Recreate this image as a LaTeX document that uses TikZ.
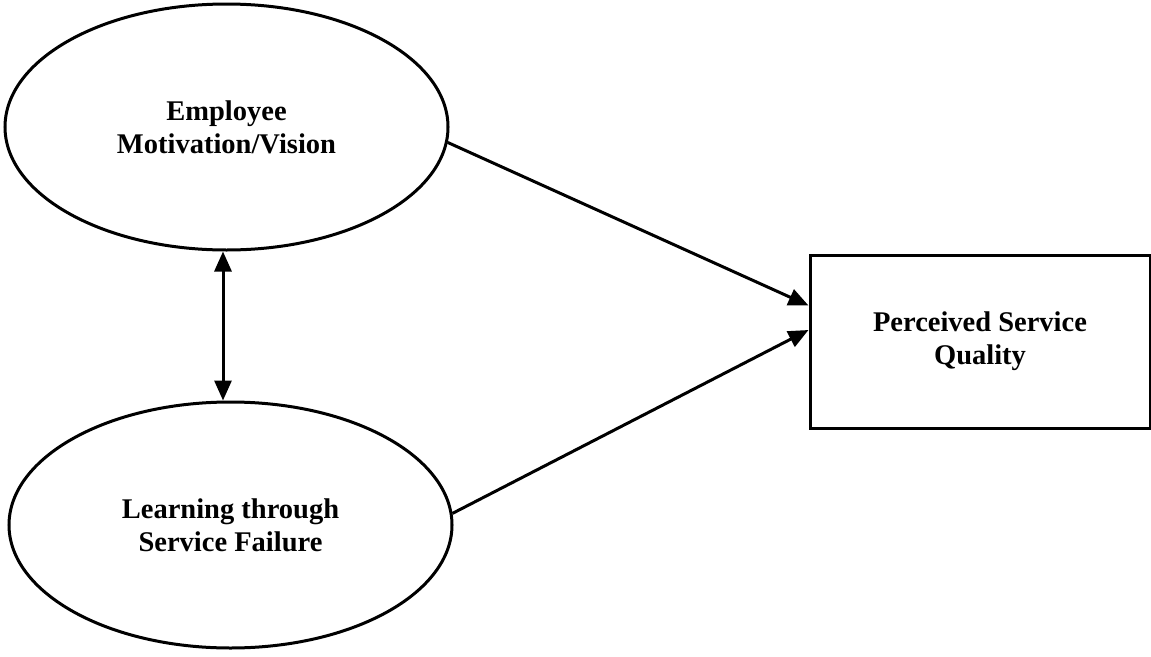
\documentclass[tikz,border=0pt]{standalone}
\usepackage{fontspec}
\setmainfont{Liberation Serif}
\usetikzlibrary{shapes.geometric,arrows.meta,calc}
\begin{document}
\begin{tikzpicture}[x=1pt,y=-1pt,
  every node/.style={font=\fontsize{28.5}{33}\selectfont\bfseries, align=center},
  construct/.style={draw, ellipse, line width=3pt, inner sep=0pt, minimum width=443pt, minimum height=246pt},
  outcome/.style={draw, rectangle, line width=3pt, inner sep=0pt, minimum width=340pt, minimum height=173pt},
  path/.style={line width=3pt, -{Triangle[length=20pt,width=17pt]}},
  corr/.style={line width=3pt, {Triangle[length=20pt,width=17pt]}-{Triangle[length=20pt,width=17pt]}}
]
\useasboundingbox (0,0) rectangle (1151,656);
\node[construct] (emv) at (226.5,127) {Employee\\Motivation/Vision};
\node[construct] (lsf) at (230.5,525) {Learning through\\Service Failure};
\node[outcome] (psq) at (980,341.5) {Perceived Service\\Quality};
\coordinate (inA) at ($(psq.west)+(0,-36)$);
\coordinate (inB) at ($(psq.west)+(0,-11.5)$);
\draw[path] (emv.-4) -- (inA);
\draw[path] (lsf.3) -- (inB);
\draw[corr] ([xshift=-3.5pt]emv.south) -- ([xshift=-7.5pt]lsf.north);
\end{tikzpicture}
\end{document}
